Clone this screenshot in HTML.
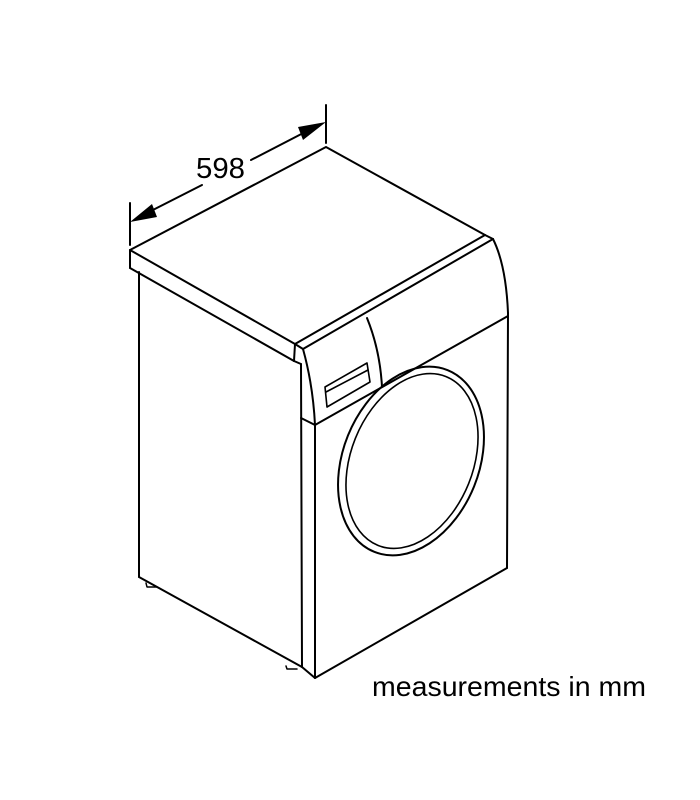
<!DOCTYPE html>
<html><head><meta charset="utf-8"><style>
html,body{margin:0;padding:0;background:#fff;}
svg{display:block;}
</style></head><body>
<svg width="700" height="800" viewBox="0 0 700 800" xmlns="http://www.w3.org/2000/svg">
<g fill="none" stroke="#000" stroke-width="2" stroke-linejoin="round" stroke-linecap="round">
<!-- dimension -->
<line x1="130" y1="203" x2="130" y2="245"/>
<line x1="326" y1="105" x2="326" y2="143"/>
<line x1="145" y1="214" x2="202" y2="185"/>
<line x1="251" y1="160" x2="311" y2="129"/>
<!-- lid top -->
<polyline points="130,250 326,147 485,235"/>
<line x1="130" y1="250" x2="295" y2="344"/>
<line x1="130" y1="250" x2="130" y2="268"/>
<line x1="130" y1="268" x2="294" y2="361"/>
<line x1="295" y1="344" x2="294" y2="361"/>
<polyline points="294,361 301,364"/>
<line x1="295" y1="344" x2="485" y2="235"/>
<polyline points="485,235 493,239"/>
<line x1="303" y1="349" x2="493" y2="239"/>
<line x1="295" y1="344" x2="303" y2="349"/>
<!-- right curve -->
<path d="M493,239 Q506,265 508,313"/>
<line x1="508" y1="313" x2="507" y2="568"/>
<!-- panel -->
<path d="M303,349 Q313,385 315,425"/>
<line x1="315" y1="425" x2="508" y2="316"/>
<line x1="301" y1="418" x2="315" y2="425"/>
<path d="M367,318 Q380,350 382,387"/>
<polygon points="325,387 367,363 370,382 327,407" stroke-width="1.6"/>
<line x1="326" y1="392" x2="368" y2="370" stroke-width="1.6"/>
<!-- body -->
<line x1="139" y1="272" x2="139" y2="577"/>
<line x1="301" y1="364" x2="302" y2="667"/>
<line x1="315" y1="425" x2="315" y2="678"/>
<line x1="139" y1="577" x2="302" y2="667"/>
<line x1="302" y1="667" x2="315" y2="678"/>
<line x1="315" y1="678" x2="507" y2="568"/>
<!-- door -->
<ellipse cx="411" cy="461" rx="68" ry="98" transform="rotate(22 411 461)"/>
<ellipse cx="412" cy="461" rx="61" ry="91" transform="rotate(22 412 461)" stroke-width="1.6"/>
<!-- feet -->
<path d="M146,583 L147,587 L157,587" stroke-width="1.5"/>
<path d="M286,666 L287,669 L297,669" stroke-width="1.5"/>
</g>
<!-- arrowheads -->
<polygon points="130,222 152,204 157,217" fill="#000"/>
<polygon points="326,122 303,140 298,127" fill="#000"/>
<text x="196" y="178" font-family="Liberation Sans, sans-serif" font-size="29" fill="#000" textLength="49" lengthAdjust="spacingAndGlyphs">598</text>
<text x="372" y="696" font-family="Liberation Sans, sans-serif" font-size="28" fill="#000" textLength="274" lengthAdjust="spacingAndGlyphs">measurements in mm</text>
</svg>
</body></html>
